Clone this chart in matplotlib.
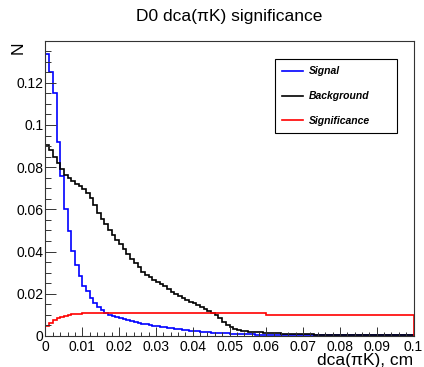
import numpy as np
import matplotlib.pyplot as plt
from matplotlib.ticker import MultipleLocator, FormatStrFormatter

plt.rcParams["font.family"] = "Liberation Sans"

# 100 bins of 0.001 cm between 0 and 0.1
bin_edges = np.linspace(0, 0.1, 101)

signal = [
    0.1336, 0.1253, 0.1152, 0.0920, 0.0759, 0.0603, 0.0497, 0.0401, 0.0335, 0.0282,
    0.0238, 0.0211, 0.0180, 0.0156, 0.0137, 0.0121, 0.0109, 0.0101, 0.0095, 0.0090,
    0.0085, 0.0080, 0.0075, 0.0071, 0.0067, 0.0063, 0.0059, 0.0056, 0.0052, 0.0049,
    0.0046, 0.0043, 0.0041, 0.0038, 0.0036, 0.0034, 0.0032, 0.0030, 0.0028, 0.0026,
    0.0024, 0.0022, 0.0020, 0.0019, 0.0017, 0.0016, 0.0015, 0.0014, 0.0013, 0.0012,
    0.0011, 0.0010, 0.0010, 0.0009, 0.0009, 0.0008, 0.0008, 0.0007, 0.0007, 0.0007,
    0.0006, 0.0006, 0.0006, 0.0006, 0.0005, 0.0005, 0.0005, 0.0005, 0.0005, 0.0005,
    0.0004, 0.0004, 0.0004, 0.0004, 0.0004, 0.0004, 0.0004, 0.0004, 0.0004, 0.0004,
    0.0004, 0.0004, 0.0004, 0.0004, 0.0004, 0.0003, 0.0003, 0.0003, 0.0003, 0.0003,
    0.0003, 0.0003, 0.0003, 0.0003, 0.0003, 0.0003, 0.0003, 0.0003, 0.0003, 0.0003,
]

background = [
    0.0906, 0.0880, 0.0850, 0.0822, 0.0790, 0.0765, 0.0750, 0.0735, 0.0722, 0.0710,
    0.0697, 0.0680, 0.0655, 0.0620, 0.0585, 0.0555, 0.0530, 0.0500, 0.0478, 0.0455,
    0.0435, 0.0410, 0.0390, 0.0365, 0.0345, 0.0325, 0.0305, 0.0290, 0.0278, 0.0265,
    0.0255, 0.0245, 0.0235, 0.0222, 0.0210, 0.0200, 0.0190, 0.0181, 0.0172, 0.0163,
    0.0155, 0.0146, 0.0137, 0.0128, 0.0119, 0.0110, 0.0098, 0.0083, 0.0066, 0.0052,
    0.0042, 0.0035, 0.0029, 0.0025, 0.0022, 0.0020, 0.0019, 0.0018, 0.0017, 0.0016,
    0.0015, 0.0014, 0.0013, 0.0012, 0.0011, 0.0010, 0.0010, 0.0009, 0.0009, 0.0008,
    0.0008, 0.0008, 0.0008, 0.0007, 0.0007, 0.0007, 0.0007, 0.0007, 0.0006, 0.0006,
    0.0006, 0.0006, 0.0006, 0.0006, 0.0006, 0.0006, 0.0006, 0.0006, 0.0006, 0.0006,
    0.0005, 0.0005, 0.0005, 0.0005, 0.0005, 0.0005, 0.0005, 0.0005, 0.0005, 0.0005,
]

significance = [
    0.0049, 0.0063, 0.0075, 0.0084, 0.0091, 0.0096, 0.0100, 0.0103, 0.0105, 0.0106,
    0.0107, 0.0107, 0.0107, 0.0107, 0.0107, 0.0107, 0.0107, 0.0107, 0.0107, 0.0107,
    0.0107, 0.0107, 0.0107, 0.0107, 0.0107, 0.0107, 0.0107, 0.0107, 0.0107, 0.0107,
    0.0107, 0.0107, 0.0107, 0.0107, 0.0107, 0.0107, 0.0107, 0.0107, 0.0107, 0.0107,
    0.0107, 0.0107, 0.0107, 0.0107, 0.0107, 0.0107, 0.0107, 0.0107, 0.0107, 0.0107,
    0.0107, 0.0107, 0.0107, 0.0107, 0.0107, 0.0107, 0.0107, 0.0107, 0.0107, 0.0107,
    0.0100, 0.0100, 0.0100, 0.0100, 0.0100, 0.0100, 0.0100, 0.0100, 0.0100, 0.0100,
    0.0100, 0.0100, 0.0100, 0.0100, 0.0100, 0.0100, 0.0100, 0.0100, 0.0100, 0.0100,
    0.0100, 0.0100, 0.0100, 0.0100, 0.0100, 0.0100, 0.0100, 0.0100, 0.0100, 0.0100,
    0.0100, 0.0100, 0.0100, 0.0100, 0.0100, 0.0100, 0.0100, 0.0100, 0.0100, 0.0100,
]

fig = plt.figure(figsize=(4.24, 3.67), dpi=100)
ax = fig.add_axes([0.1073, 0.0845, 0.868, 0.8038])

ax.stairs(signal, bin_edges, baseline=0, color="#0000ff", linewidth=1.2, label="Signal")
ax.stairs(background, bin_edges, baseline=0, color="black", linewidth=1.2, label="Background")
ax.stairs(significance, bin_edges, baseline=0, color="#ff0000", linewidth=1.2, label="Significance")

ax.set_xlim(0, 0.1)
ax.set_ylim(0, 0.1398)

# ROOT-like axes: ticks inside, only left and bottom
ax.xaxis.set_major_locator(MultipleLocator(0.01))
ax.xaxis.set_minor_locator(MultipleLocator(0.002))
ax.yaxis.set_major_locator(MultipleLocator(0.02))
ax.yaxis.set_minor_locator(MultipleLocator(0.005))
ax.xaxis.set_major_formatter(FormatStrFormatter("%g"))
ax.yaxis.set_major_formatter(FormatStrFormatter("%g"))

ax.tick_params(axis="x", which="major", direction="in", length=6.4, width=0.7,
               color="#333333", labelsize=10, pad=3)
ax.tick_params(axis="x", which="minor", direction="in", length=3.2, width=0.7, color="#333333")
ax.tick_params(axis="y", which="major", direction="in", length=7.9, width=0.7,
               color="#333333", labelsize=10, pad=1.5)
ax.tick_params(axis="y", which="minor", direction="in", length=4.0, width=0.7, color="#333333")

for spine in ax.spines.values():
    spine.set_color("#333333")
    spine.set_linewidth(0.8)

ax.set_xlabel("dca(\u03c0K), cm", fontsize=12.5, ha="right")
ax.xaxis.set_label_coords(1.0, -0.059)
ax.xaxis.label.set_va("top")

fig.text(18.5 / 424, 1 - 41.5 / 367, "N", rotation=90, ha="center", va="top", fontsize=12.5)
fig.text(229.5 / 424, 1 - 16.7 / 367, "D0 dca(\u03c0K) significance",
         ha="center", va="center", fontsize=12.5)

leg = ax.legend(loc="upper left", bbox_to_anchor=(275.3 / 424, 1 - 59.3 / 367 - 0.3, 122 / 424, 0.3),
                bbox_transform=fig.transFigure, mode="expand", borderaxespad=0,
                prop=dict(size=7.5, weight="bold", style="italic"),
                handlelength=2.0, handletextpad=0.55, labelspacing=1.41, borderpad=0.69,
                fancybox=False, framealpha=1, edgecolor="black")
leg.get_frame().set_linewidth(0.8)

plt.savefig("out.png", dpi=100)
